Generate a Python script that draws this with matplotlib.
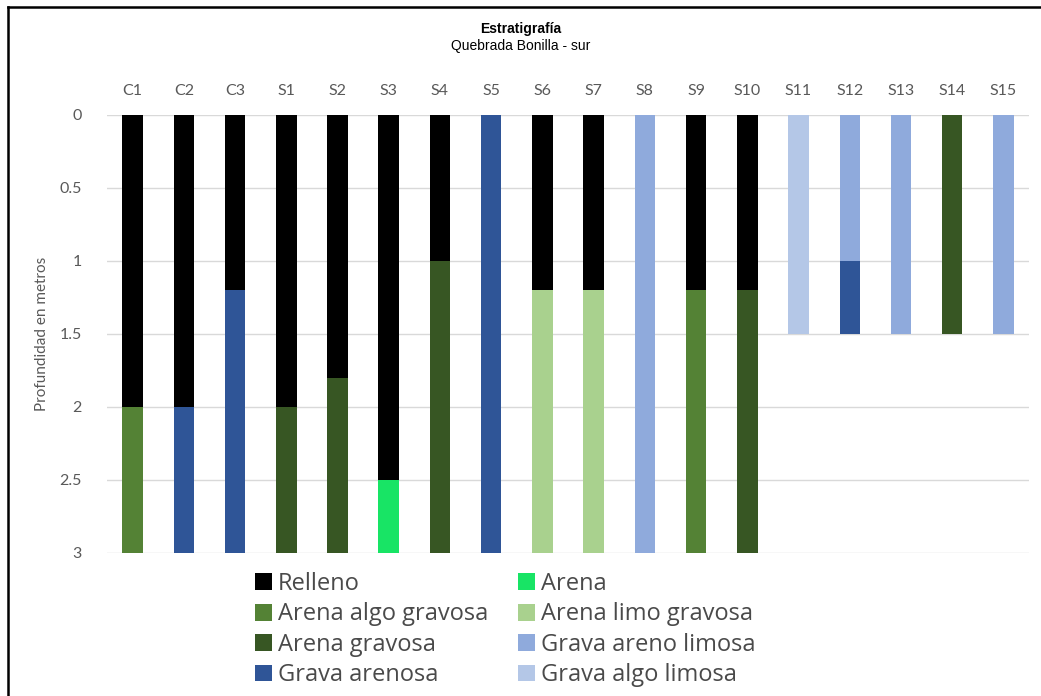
import matplotlib
matplotlib.use("Agg")
import matplotlib.pyplot as plt
from matplotlib.patches import Patch
from matplotlib.lines import Line2D

# sondeos y capas (profundidad en metros)
sondeos = ["C1", "C2", "C3", "S1", "S2", "S3", "S4", "S5", "S6", "S7",
           "S8", "S9", "S10", "S11", "S12", "S13", "S14", "S15"]

capa1 = ["Relleno", "Relleno", "Relleno", "Relleno", "Relleno", "Relleno",
         "Relleno", "Grava arenosa", "Relleno", "Relleno", "Grava areno limosa",
         "Relleno", "Relleno", "Grava algo limosa", "Grava areno limosa",
         "Grava areno limosa", "Arena gravosa", "Grava areno limosa"]
espesor1 = [2, 2, 1.2, 2, 1.8, 2.5, 1, 3, 1.2, 1.2, 3, 1.2, 1.2, 1.5, 1, 1.5, 1.5, 1.5]

capa2 = ["Arena algo gravosa", "Grava arenosa", "Grava arenosa", "Arena gravosa",
         "Arena gravosa", "Arena", "Arena gravosa", None, "Arena limo gravosa",
         "Arena limo gravosa", None, "Arena algo gravosa", "Arena gravosa",
         None, "Grava arenosa", None, None, None]
espesor2 = [1, 1, 1.8, 1, 1.2, 0.5, 2, 0, 1.8, 1.8, 0, 1.8, 1.8, 0, 0.5, 0, 0, 0]

materiales = ["Relleno", "Arena algo gravosa", "Arena gravosa", "Grava arenosa",
              "Arena", "Arena limo gravosa", "Grava areno limosa", "Grava algo limosa"]
colores = {
    "Relleno": "#000000",
    "Arena algo gravosa": "#548235",
    "Arena gravosa": "#375623",
    "Grava arenosa": "#2F5597",
    "Arena": "#18E465",
    "Arena limo gravosa": "#A9D18E",
    "Grava areno limosa": "#8FAADC",
    "Grava algo limosa": "#B4C7E7",
}

fig = plt.figure(figsize=(10.41, 6.96), dpi=100)
ax = fig.add_axes([0.1028, 0.2055, 0.8857, 0.6293])

x = range(len(sondeos))
ax.bar(x, espesor1, width=0.4, color=[colores[c] for c in capa1], zorder=3)
ax.bar(x, espesor2, width=0.4, bottom=espesor1,
       color=[colores[c] if c else "white" for c in capa2], zorder=3)

ax.set_ylim(3, 0)
ax.set_xlim(-0.5, len(sondeos) - 0.5)
ax.set_yticks([0, 0.5, 1, 1.5, 2, 2.5, 3])
ax.set_yticklabels(["0", "0.5", "1", "1.5", "2", "2.5", "3"])
ax.set_xticks(list(x))
ax.set_xticklabels(sondeos)
ax.xaxis.tick_top()
ax.tick_params(axis="both", length=0, labelsize=11.5, labelcolor="#595959")
ax.tick_params(axis="x", pad=12)
ax.tick_params(axis="y", pad=18)
for lab in ax.get_xticklabels() + ax.get_yticklabels():
    lab.set_family("Lato")
ax.grid(axis="y", color="#D9D9D9", linewidth=1, zorder=0)
for s in ax.spines.values():
    s.set_visible(False)
ax.set_ylabel("Profundidad en metros", fontsize=11, color="#595959",
              family="Lato", labelpad=8)

fig.text(0.5, 0.958, "Estratigrafía", ha="center", va="center",
         fontsize=10, fontweight="bold", family="Liberation Sans")
fig.text(0.5, 0.934, "Quebrada Bonilla - sur", ha="center", va="center",
         fontsize=10, family="Liberation Sans")

handles = [Patch(facecolor=colores[m], label=m) for m in materiales]
leg = fig.legend(handles=handles, ncol=2, loc="upper left",
                 bbox_to_anchor=(0.245, 0.178), frameon=False,
                 prop={"family": "Open Sans", "size": 17},
                 handlelength=0.72, handleheight=0.72, handletextpad=0.26,
                 labelspacing=0.27, columnspacing=1.25, borderpad=0,
                 borderaxespad=0)
for t in leg.get_texts():
    t.set_color("#4a4a4a")

# marco recortado de la imagen
fig.add_artist(Line2D([8 / 1041, 1], [1 - 7 / 696, 1 - 7 / 696],
                      transform=fig.transFigure, color="black", linewidth=1.8))
fig.add_artist(Line2D([8 / 1041, 8 / 1041], [0, 1 - 7 / 696],
                      transform=fig.transFigure, color="black", linewidth=1.8))

fig.savefig("out.png", dpi=100, facecolor="white")
